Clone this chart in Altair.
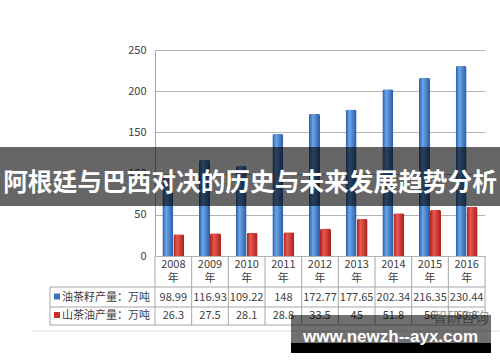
import altair as alt
import pandas as pd

# ---- data ----
years = ["2008", "2009", "2010", "2011", "2012", "2013", "2014", "2015", "2016"]
seed = [98.99, 116.93, 109.22, 148, 172.77, 177.65, 202.34, 216.35, 230.44]
oil = [26.3, 27.5, 28.1, 28.8, 33.5, 45, 51.8, 56, 59.8]
series_names = ["油茶籽产量：万吨", "山茶油产量：万吨"]
y_ticks = [0, 50, 100, 150, 200, 250]
year_unit = "年"
banner_text = "阿根廷与巴西对决的历史与未来发展趋势分析"
watermark_text = "www.newzh--ayx.com"
source_text = "智研咨询"

FONT = "Noto Sans CJK SC"
LINE = "#a6a6a6"
TXT = "#404040"

table = pd.DataFrame({
    "year": years,
    "unit": [year_unit] * len(years),
    "seed_label": [f"{v:g}" for v in seed],
    "oil_label": [f"{v:g}" for v in oil],
})
seed_df = pd.DataFrame({"year": years, "value": seed, "series": series_names[0]})
oil_df = pd.DataFrame({"year": years, "value": oil, "series": series_names[1]})
one = pd.DataFrame({"k": [0]})
labels_df = pd.DataFrame({"name": series_names, "row": [0, 1]})

x_enc = alt.X("year:N", sort=years, scale=alt.Scale(paddingInner=0, paddingOuter=0), axis=None)
xoff = alt.XOffset("series:N", sort=series_names,
                   scale=alt.Scale(paddingOuter=0.667, paddingInner=0))
y_enc = alt.Y("value:Q", scale=alt.Scale(domain=[0, 250], nice=False),
              axis=alt.Axis(values=y_ticks, grid=True, ticks=False, domain=True,
                            domainColor=LINE, gridColor="#b4b4b4", title=None,
                            labelFontSize=11, labelColor=TXT, labelFont=FONT,
                            labelPadding=9))


def grad(edge, mid):
    return alt.Gradient(gradient="linear", x1=0, x2=1, y1=0, y2=0,
                        stops=[alt.GradientStop(offset=0, color=edge),
                               alt.GradientStop(offset=0.35, color=mid),
                               alt.GradientStop(offset=1, color=edge)])


blue = grad("#2a5aa2", "#6aa6e8")
red = grad("#a61f1b", "#e8584f")

bars_seed = alt.Chart(seed_df).mark_bar(color=blue, cornerRadiusTopLeft=2, cornerRadiusTopRight=2).encode(
    x=x_enc, xOffset=xoff, y=y_enc)
bars_oil = alt.Chart(oil_df).mark_bar(color=red, cornerRadiusTopLeft=2, cornerRadiusTopRight=2).encode(
    x=x_enc, xOffset=xoff, y="value:Q")

# ---- data table below the plot ----
tcfg = dict(font=FONT, fontSize=11, color=TXT, align="center", baseline="middle")
hdr_year = alt.Chart(table).mark_text(**tcfg).encode(x=x_enc, y=alt.value(215), text="year:N")
hdr_unit = alt.Chart(table).mark_text(**tcfg).encode(x=x_enc, y=alt.value(229), text="unit:N")
row1 = alt.Chart(table).mark_text(**tcfg).encode(x=x_enc, y=alt.value(247.5), text="seed_label:N")
row2 = alt.Chart(table).mark_text(**tcfg).encode(x=x_enc, y=alt.value(266), text="oil_label:N")

vlines = alt.Chart(table).mark_rule(color=LINE, strokeWidth=1).encode(
    x=alt.X("year:N", sort=years, bandPosition=0, axis=None), y=alt.value(206), y2=alt.value(275))
right_line = alt.Chart(one).mark_rule(color=LINE).encode(x=alt.value(330), y=alt.value(206), y2=alt.value(275))
left_line = alt.Chart(one).mark_rule(color=LINE).encode(x=alt.value(-105), y=alt.value(237), y2=alt.value(275))
h1 = alt.Chart(one).mark_rule(color=LINE).encode(x=alt.value(-105), x2=alt.value(330), y=alt.value(237))
h2 = alt.Chart(one).mark_rule(color=LINE).encode(x=alt.value(-105), x2=alt.value(330), y=alt.value(257))
h3 = alt.Chart(one).mark_rule(color=LINE).encode(x=alt.value(-105), x2=alt.value(330), y=alt.value(275))
sep = alt.Chart(one).mark_rule(color="#dcdcdc").encode(x=alt.value(-122), x2=alt.value(345), y=alt.value(281))

sq1 = alt.Chart(one).mark_square(size=36, color="#3a74c0", opacity=1).encode(x=alt.value(-98), y=alt.value(246.5))
sq2 = alt.Chart(one).mark_square(size=36, color="#c8302a", opacity=1).encode(x=alt.value(-98), y=alt.value(265))
lab1 = alt.Chart(labels_df[labels_df.row == 0]).mark_text(
    font=FONT, fontSize=11, color=TXT, align="left", baseline="middle").encode(
    x=alt.value(-93), y=alt.value(247.5), text="name:N")
lab2 = alt.Chart(labels_df[labels_df.row == 1]).mark_text(
    font=FONT, fontSize=11, color=TXT, align="left", baseline="middle").encode(
    x=alt.value(-93), y=alt.value(266), text="name:N")

# ---- overlays ----
banner = alt.Chart(one).mark_rect(color="black", opacity=0.6).encode(
    x=alt.value(-155), x2=alt.value(345), y=alt.value(97), y2=alt.value(156))
banner_t = alt.Chart(one).mark_text(font=FONT, fontSize=24.7, fontWeight="bold", color="white",
                                    align="center", baseline="middle").encode(
    x=alt.value(95), y=alt.value(134), text=alt.value(banner_text))

src = alt.Chart(one).mark_text(font=FONT, fontSize=14, color="#9a9a9a", align="center", baseline="middle").encode(
    x=alt.value(306), y=alt.value(268), text=alt.value(source_text))
wm_gray = alt.Chart(one).mark_rect(color="black", opacity=0.56).encode(
    x=alt.value(136), x2=alt.value(336), y=alt.value(265), y2=alt.value(293))
wm_black = alt.Chart(one).mark_rect(color="black", opacity=1).encode(
    x=alt.value(136), x2=alt.value(336), y=alt.value(293), y2=alt.value(303))
wm_t = alt.Chart(one).mark_text(font="Liberation Sans", fontSize=17, fontWeight="bold", color="white",
                                align="center", baseline="alphabetic").encode(
    x=alt.value(235.5), y=alt.value(292), text=alt.value(watermark_text))

chart = alt.layer(
    bars_seed, bars_oil,
    vlines, right_line, left_line, h1, h2, h3, sep,
    hdr_year, hdr_unit, row1, row2, sq1, sq2, lab1, lab2,
    banner, banner_t, src, wm_gray, wm_black, wm_t,
).properties(
    width=330, height=206,
    autosize=alt.AutoSizeParams(type="none"),
    padding={"left": 155, "top": 50, "right": 15, "bottom": 106},
    background="white",
).configure_view(strokeWidth=0)

chart.save("out.html", embed_options={"renderer": "svg", "actions": False})
